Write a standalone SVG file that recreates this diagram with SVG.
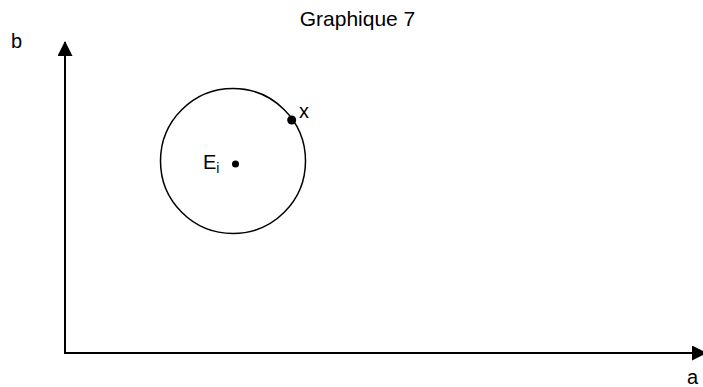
<svg xmlns="http://www.w3.org/2000/svg" width="703" height="387" viewBox="0 0 703 387">
<style>
text{font-family:"Liberation Sans",Arial,sans-serif;fill:#000}
.ax{stroke:#000;stroke-width:2;fill:none}
</style>
<defs>
<marker id="ah" markerWidth="15" markerHeight="15" refX="14" refY="7.5" orient="auto" markerUnits="userSpaceOnUse">
<path d="M0,0 L15,7.5 L0,15 Z" fill="#000"/>
</marker>
</defs>
<rect width="703" height="387" fill="#fff"/>
<text x="357.5" y="26" font-size="21" text-anchor="middle">Graphique 7</text>
<g id="connectors">
<line class="ax" x1="65" y1="354" x2="65" y2="42" marker-end="url(#ah)"/>
<line class="ax" x1="64" y1="353" x2="706" y2="353" marker-end="url(#ah)"/>
</g>
<text x="11" y="48" font-size="20">b</text>
<text x="687" y="384" font-size="20">a</text>
<g id="circle">
<circle cx="233" cy="161" r="72.5" fill="none" stroke="#000" stroke-width="1.5"/>
</g>
<g id="Ei">
<circle cx="235.5" cy="164" r="3.5" fill="#000"/>
<text x="203" y="169" font-size="20">E<tspan font-size="14" dy="4">i</tspan></text>
</g>
<g id="x">
<circle cx="291.7" cy="120" r="4.5" fill="#000"/>
<text x="299" y="118" font-size="20">x</text>
</g>
</svg>
